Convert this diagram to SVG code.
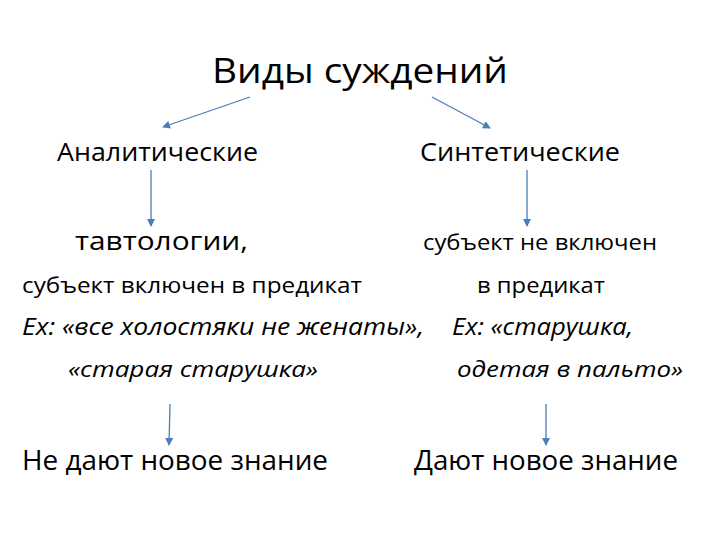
<svg xmlns="http://www.w3.org/2000/svg" width="720" height="540" viewBox="0 0 720 540">
<style>
text{font-family:"Open Sans","Liberation Sans",sans-serif;fill:#000}
.i{font-style:italic}
.c line{stroke:#4a7ebb;stroke-width:1.3;marker-end:url(#a)}
</style>
<defs><marker id="a" markerWidth="8" markerHeight="8" refX="7" refY="4" orient="auto" markerUnits="userSpaceOnUse"><path d="M0,0L8,4L0,8z" fill="#4a7ebb"/></marker></defs>
<rect width="720" height="540" fill="#fff"/>
<g id="title"><text x="212" y="83" font-size="34" textLength="296" lengthAdjust="spacingAndGlyphs">Виды суждений</text></g>
<g id="analytic"><text x="57" y="161" font-size="25" textLength="201" lengthAdjust="spacingAndGlyphs">Аналитические</text></g>
<g id="synthetic"><text x="420" y="161" font-size="25" textLength="200" lengthAdjust="spacingAndGlyphs">Синтетические</text></g>
<g id="a-def">
<text x="75" y="250" font-size="25" textLength="173" lengthAdjust="spacingAndGlyphs">тавтологии,</text>
<text x="22" y="293" font-size="22" textLength="340" lengthAdjust="spacingAndGlyphs">субъект включен в предикат</text>
</g>
<g id="s-def">
<text x="423" y="250" font-size="22" textLength="234" lengthAdjust="spacingAndGlyphs">субъект не включен</text>
<text x="477" y="293" font-size="22" textLength="128" lengthAdjust="spacingAndGlyphs">в предикат</text>
</g>
<g id="a-ex">
<text class="i" x="22" y="335" font-size="23" textLength="402" lengthAdjust="spacingAndGlyphs">Ex: «все холостяки не женаты»,</text>
<text class="i" x="68" y="377" font-size="22" textLength="250" lengthAdjust="spacingAndGlyphs">«старая старушка»</text>
</g>
<g id="s-ex">
<text class="i" x="452" y="335" font-size="23" textLength="181" lengthAdjust="spacingAndGlyphs">Ex: «старушка,</text>
<text class="i" x="457" y="377" font-size="22" textLength="226" lengthAdjust="spacingAndGlyphs">одетая в пальто»</text>
</g>
<g id="a-res"><text x="22" y="470" font-size="27" textLength="306" lengthAdjust="spacingAndGlyphs">Не дают новое знание</text></g>
<g id="s-res"><text x="414" y="470" font-size="27" textLength="264" lengthAdjust="spacingAndGlyphs">Дают новое знание</text></g>
<g class="c" id="connectors">
<line x1="250" y1="97" x2="163" y2="127"/>
<line x1="432" y1="97" x2="490" y2="128"/>
<line x1="151" y1="170" x2="151" y2="226"/>
<line x1="527" y1="170" x2="527" y2="226"/>
<line x1="170" y1="404" x2="169" y2="445"/>
<line x1="546" y1="404" x2="546" y2="445"/>
</g>
</svg>
